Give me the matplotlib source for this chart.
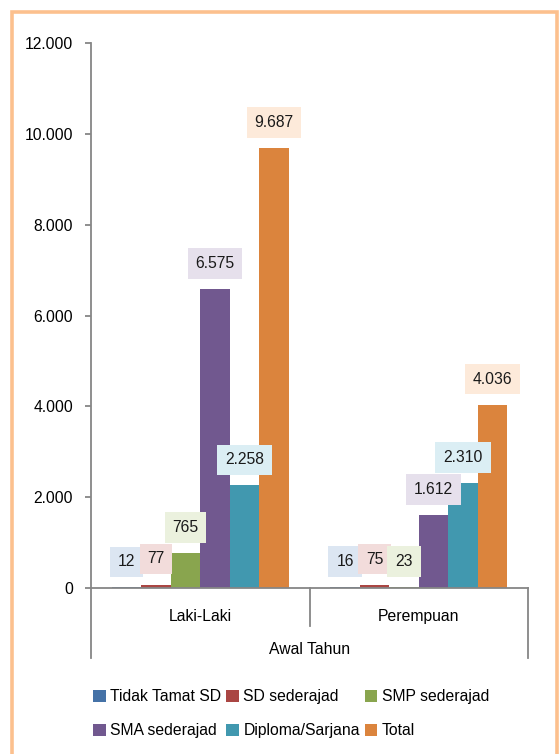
import matplotlib
matplotlib.use("Agg")
import matplotlib.pyplot as plt
from matplotlib.lines import Line2D
from matplotlib.patches import Rectangle
import numpy as np

plt.rcParams['font.family'] = ['Liberation Sans', 'DejaVu Sans']

groups = ["Laki-Laki", "Perempuan"]
series = ["Tidak Tamat SD", "SD sederajad", "SMP sederajad",
          "SMA sederajad", "Diploma/Sarjana", "Total"]
laki = [12, 77, 765, 6575, 2258, 9687]
perempuan = [16, 75, 23, 1612, 2310, 4036]
bar_colors = ["#4572A7", "#AA4643", "#89A54E", "#71588F", "#4198AF", "#DB843D"]
box_colors = ["#DCE6F2", "#F2DCDB", "#EBF1DE", "#E6E0EC", "#DBEEF4", "#FDEADA"]
yticks = [0, 2000, 4000, 6000, 8000, 10000, 12000]

axis_grey = "#868686"
fs = 11.3


def fmt(v):
    return "{:,}".format(v).replace(",", ".")


fig = plt.figure(figsize=(5.59, 7.54), dpi=100)
ax = fig.add_axes([91 / 559, 1 - 588 / 754, 437 / 559, 545 / 754])

# orange frame around the chart
fig.patches.append(Rectangle((11.5 / 559, -0.05), 545 / 559, 1 - 12 / 754 + 0.05,
                             transform=fig.transFigure, fill=False,
                             edgecolor="#FCC08E", linewidth=2.6))

x = np.arange(len(groups))
w = 0.81 / len(series)
handles = []
for i, name in enumerate(series):
    vals = [laki[i], perempuan[i]]
    pos = x + (i - 2.5) * w
    bars = ax.bar(pos, vals, width=w, color=bar_colors[i], label=name)
    handles.append(bars)
    for xp, v in zip(pos, vals):
        ax.annotate(fmt(v), (xp, v), xytext=(0, 13), textcoords="offset points",
                    ha="center", va="bottom", fontsize=fs, color="#1a1a1a",
                    bbox=dict(boxstyle="square,pad=0.5", fc=box_colors[i], ec="none"))

ax.set_xlim(-0.5, 1.5)
ax.set_ylim(0, 12000)
ax.set_yticks(yticks)
ax.set_yticklabels([fmt(t) for t in yticks], fontsize=fs)
ax.tick_params(axis="y", direction="out", length=4, width=1.3, color=axis_grey, pad=9)
ax.set_xticks(x)
ax.set_xticklabels(groups, fontsize=fs)
ax.tick_params(axis="x", length=0, pad=15)

for side in ["top", "right"]:
    ax.spines[side].set_visible(False)
for side in ["left", "bottom"]:
    ax.spines[side].set_color(axis_grey)
    ax.spines[side].set_linewidth(1.3)

# category axis brackets
tr = ax.get_xaxis_transform()
drop_sep = 38 / 545
drop_edge = 70 / 545
ax.add_line(Line2D([0.5, 0.5], [0, -drop_sep], transform=tr, color=axis_grey,
                   lw=1.3, clip_on=False))
for xe in [-0.5, 1.5]:
    ax.add_line(Line2D([xe, xe], [0, -drop_edge], transform=tr, color=axis_grey,
                       lw=1.3, clip_on=False))
ax.text(0.5, -62 / 545, "Awal Tahun", transform=tr, ha="center", va="center",
        fontsize=fs)

order = [0, 3, 1, 4, 2, 5]
fig.legend([handles[k] for k in order], [series[k] for k in order], ncol=3,
           loc="upper left", bbox_to_anchor=(79 / 559, 1 - 675 / 754),
           frameon=False, fontsize=fs, handlelength=0.8, handleheight=0.8,
           handletextpad=0.3, columnspacing=0.3, labelspacing=1.2)

fig.savefig("out.png", dpi=100)
